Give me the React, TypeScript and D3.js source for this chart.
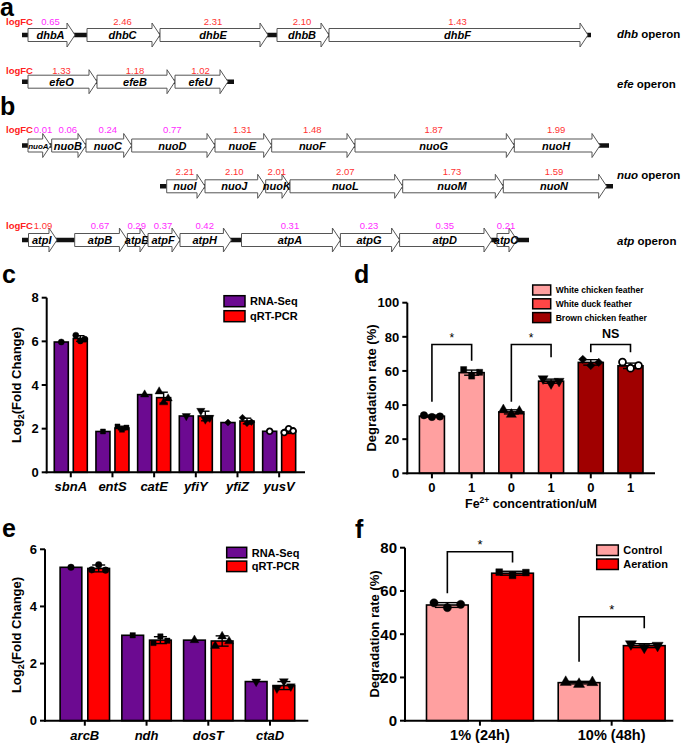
import React from 'react';
import * as d3 from 'd3';

const FONT = '"Liberation Sans", Arial, Helvetica, sans-serif';

// ---------------- Panels a / b : operon maps (map units) ----------------
const dhbGenes = ['dhbA', 'dhbC', 'dhbE', 'dhbB', 'dhbF'];
const dhbStart = [28, 87, 160, 277, 329];
const dhbEnd = [75, 160, 268, 329, 588];
const dhbLogFC = [0.65, 2.46, 2.31, 2.1, 1.43];

const efeGenes = ['efeO', 'efeB', 'efeU'];
const efeStart = [28, 97, 175];
const efeEnd = [97, 175, 228];
const efeLogFC = [1.33, 1.18, 1.02];

const nuo1Genes = ['nuoA', 'nuoB', 'nuoC', 'nuoD', 'nuoE', 'nuoF', 'nuoG', 'nuoH'];
const nuo1Start = [28, 51.7, 86, 131.7, 215, 271.7, 355, 514.3];
const nuo1End = [50.7, 86, 131.7, 215, 271.7, 355, 514.3, 600];
const nuo1LogFC = [0.01, 0.06, 0.24, 0.77, 1.31, 1.48, 1.87, 1.99];

const nuo2Genes = ['nuoI', 'nuoJ', 'nuoK', 'nuoL', 'nuoM', 'nuoN'];
const nuo2Start = [166.7, 205, 265.7, 290, 402.7, 503.3];
const nuo2End = [205, 265.7, 290, 402.7, 503.3, 606.7];
const nuo2LogFC = [2.21, 2.1, 2.01, 2.07, 1.73, 1.59];

const atpGenes = ['atpI', 'atpB', 'atpE', 'atpF', 'atpH', 'atpA', 'atpG', 'atpD', 'atpC'];
const atpStart = [28.5, 74.7, 127.4, 148, 180, 241.5, 340.4, 399.6, 497];
const atpEnd = [57, 127.4, 148, 180, 231.4, 340.4, 399.6, 492, 517];
const atpLogFC = [1.09, 0.67, 0.29, 0.37, 0.42, 0.31, 0.23, 0.35, 0.21];

// ---------------- Panel c ----------------
const cGenes = ['sbnA', 'entS', 'catE', 'yfiY', 'yfiZ', 'yusV'];
const cRnaSeq = [5.97, 1.87, 3.56, 2.58, 2.28, 1.88];
const cQrtMean = [6.13, 2.03, 3.42, 2.58, 2.35, 1.88];
const cQrtSD = [0.13, 0.08, 0.25, 0.22, 0.13, 0.1];
const cQrtReps = [
  [6.28, 6.02, 6.1],
  [2.1, 1.95, 2.05],
  [3.7, 3.2, 3.38],
  [2.82, 2.42, 2.5],
  [2.5, 2.25, 2.3],
  [1.82, 2.0, 1.9],
];
const cTicks = [0, 2, 4, 6, 8];

// ---------------- Panel d ----------------
const dFe = ['0', '1', '0', '1', '0', '1'];
const dMeans = [33.5, 59, 36, 54, 65, 63];
const dSD = [0.6, 1.5, 1.2, 1.2, 1.6, 1.6];
const dReps = [
  [34, 33, 33.3],
  [60.8, 57, 59.2],
  [37.2, 34.5, 36.3],
  [55.5, 52.6, 54],
  [66.8, 63.2, 65],
  [65.2, 61.6, 63.2],
];
const dFeathers = ['White chicken feather', 'White duck feather', 'Brown chicken feather'];
const dTicks = [0, 20, 40, 60, 80, 100];

// ---------------- Panel e ----------------
const eGenes = ['arcB', 'ndh', 'dosT', 'ctaD'];
const eRnaSeq = [5.37, 2.99, 2.82, 1.37];
const eQrtMean = [5.33, 2.82, 2.79, 1.23];
const eQrtSD = [0.12, 0.12, 0.18, 0.14];
const eQrtReps = [
  [5.28, 5.46, 5.27],
  [2.72, 2.95, 2.8],
  [2.62, 2.95, 2.78],
  [1.13, 1.38, 1.2],
];
const eTicks = [0, 2, 4, 6];

// ---------------- Panel f ----------------
const fConditions = ['1% (24h)', '10% (48h)'];
const fControl = [53.5, 17.6];
const fControlSD = [1.1, 0.6];
const fControlReps = [
  [54.5, 52.3, 53.8],
  [17.8, 16.9, 17.7],
];
const fAeration = [68.2, 34.7];
const fAerationSD = [0.9, 0.9];
const fAerationReps = [
  [68.7, 67.2, 68.5],
  [35.5, 33.9, 34.8],
];
const fTicks = [0, 20, 40, 60, 80];

// ---------------- styles ----------------
const PURPLE = '#6c0a91';
const RED = '#ff0000';
const PINK = '#ffa0a0';
const MIDRED = '#ff4646';
const DARKRED = '#a00000';
const VAL_RED = '#ff3333';
const VAL_MAG = '#ff2bff';

type Shape = 'circle' | 'square' | 'triangle' | 'triangleDown' | 'diamond' | 'openCircle';
const shapes6: Shape[] = ['circle', 'square', 'triangle', 'triangleDown', 'diamond', 'openCircle'];

function Marker({ shape, x, y, size }: { shape: Shape; x: number; y: number; size: number }) {
  let type: any = d3.symbolCircle;
  let rot = 0;
  let fill = '#000';
  let s = size;
  if (shape === 'square') { type = d3.symbolSquare; s = size * 0.85; }
  if (shape === 'triangle') type = d3.symbolTriangle;
  if (shape === 'triangleDown') { type = d3.symbolTriangle; rot = 180; }
  if (shape === 'diamond') { type = d3.symbolSquare; rot = 45; s = size * 0.8; }
  if (shape === 'openCircle') { fill = '#fff'; s = size * 0.85; }
  const d = d3.symbol().type(type).size(s)() as string;
  return (
    <path
      d={d}
      transform={`translate(${x},${y}) rotate(${rot})`}
      fill={fill}
      stroke="#000"
      strokeWidth={shape === 'openCircle' ? 1.8 : 0.4}
    />
  );
}

type BarItem = {
  cx: number;
  w: number;
  v: number;
  sd?: number;
  fill: string;
  reps?: number[];
  shape: Shape;
};

function BarLayer({ items, y, msize }: { items: BarItem[]; y: any; msize: number }) {
  const y0 = y(0);
  return (
    <g>
      {items.map((b, k) => {
        const yt = y(b.v);
        const cap = b.w * 0.6;
        const pts = b.reps ?? [b.v];
        const offs = pts.length === 1 ? [0] : [-0.32, 0, 0.32];
        return (
          <g key={k}>
            <rect x={b.cx - b.w / 2} y={yt} width={b.w} height={y0 - yt} fill={b.fill} stroke="#000" strokeWidth={1.6} />
            {b.sd != null && (
              <g stroke="#000" strokeWidth={1.4}>
                <line x1={b.cx} x2={b.cx} y1={y(b.v - b.sd)} y2={y(b.v + b.sd)} />
                <line x1={b.cx - cap / 2} x2={b.cx + cap / 2} y1={y(b.v + b.sd)} y2={y(b.v + b.sd)} />
                <line x1={b.cx - cap / 2} x2={b.cx + cap / 2} y1={y(b.v - b.sd)} y2={y(b.v - b.sd)} />
              </g>
            )}
            {pts.map((p, j) => (
              <Marker key={j} shape={b.shape} x={b.cx + offs[j] * b.w} y={y(p)} size={msize} />
            ))}
          </g>
        );
      })}
    </g>
  );
}

function Axes({
  x0, x1, y, ticks, tickFont, cats, catX, labelDy, labelFont, italic,
}: {
  x0: number; x1: number; y: any; ticks: number[]; tickFont: number;
  cats: string[]; catX: (i: number) => number; labelDy: number; labelFont: number; italic?: boolean;
}) {
  const y0 = y(0);
  const yTop = y(ticks[ticks.length - 1]);
  return (
    <g>
      <line x1={x0} x2={x0} y1={yTop} y2={y0 + 1} stroke="#000" strokeWidth={2} />
      <line x1={x0 - 1} x2={x1} y1={y0} y2={y0} stroke="#000" strokeWidth={2} />
      {ticks.map((t) => (
        <g key={t}>
          <line x1={x0 - 5} x2={x0} y1={y(t)} y2={y(t)} stroke="#000" strokeWidth={2} />
          <text x={x0 - 8} y={y(t)} dy="0.36em" textAnchor="end" fontSize={tickFont} fontWeight="bold">
            {t}
          </text>
        </g>
      ))}
      {cats.map((c, i) => (
        <g key={i}>
          <line x1={catX(i)} x2={catX(i)} y1={y0} y2={y0 + 5} stroke="#000" strokeWidth={2} />
          <text
            x={catX(i)}
            y={y0 + labelDy}
            textAnchor="middle"
            fontSize={labelFont}
            fontWeight="bold"
            fontStyle={italic ? 'italic' : 'normal'}
          >
            {c}
          </text>
        </g>
      ))}
    </g>
  );
}

function Legend({ x, y, items, bw, bh, step, font }: { x: number; y: number; items: { label: string; color: string }[]; bw: number; bh: number; step: number; font: number }) {
  return (
    <g>
      {items.map((it, i) => (
        <g key={i}>
          <rect x={x} y={y + i * step} width={bw} height={bh} fill={it.color} stroke="#000" strokeWidth={1.5} />
          <text x={x + bw + 5} y={y + i * step + bh / 2} dy="0.36em" fontSize={font} fontWeight="bold">
            {it.label}
          </text>
        </g>
      ))}
    </g>
  );
}

function YTitle({ cx, cy, children, size = 13 }: { cx: number; cy: number; children: any; size?: number }) {
  return (
    <text transform={`translate(${cx + size * 0.36},${cy}) rotate(-90)`} textAnchor="middle" fontSize={size} fontWeight="bold">
      {children}
    </text>
  );
}

function Bracket({ xl, xr, yl, yt, yr, label, font, bold }: { xl: number; xr: number; yl: number; yt: number; yr: number; label: string; font: number; bold?: boolean }) {
  return (
    <g>
      <path d={`M${xl},${yl}V${yt}H${xr}V${yr}`} fill="none" stroke="#000" strokeWidth={1.6} />
      <text
        x={(xl + xr) / 2}
        y={yt - (label === '*' ? 2.5 : 6)}
        textAnchor="middle"
        fontSize={font}
        fontWeight={bold ? 'bold' : 'normal'}
      >
        {label}
      </text>
    </g>
  );
}

// ---------------- operon rows ----------------
const gx = d3.scaleLinear().domain([0, 685]).range([0, 685]);

type Row = {
  genes: string[]; start: number[]; end: number[]; fc: number[];
  y: number; labelY: number; span: [number, number]; showLogFC: boolean;
};

const operonRows: Row[] = [
  { genes: dhbGenes, start: dhbStart, end: dhbEnd, fc: dhbLogFC, y: 35, labelY: 25, span: [22, 591], showLogFC: true },
  { genes: efeGenes, start: efeStart, end: efeEnd, fc: efeLogFC, y: 81.7, labelY: 73.5, span: [22, 234], showLogFC: true },
  { genes: nuo1Genes, start: nuo1Start, end: nuo1End, fc: nuo1LogFC, y: 145.5, labelY: 133, span: [22, 609], showLogFC: true },
  { genes: nuo2Genes, start: nuo2Start, end: nuo2End, fc: nuo2LogFC, y: 186.3, labelY: 175, span: [160, 613], showLogFC: false },
  { genes: atpGenes, start: atpStart, end: atpEnd, fc: atpLogFC, y: 240, labelY: 229, span: [22, 529], showLogFC: true },
];

const operonLabels = [
  { name: 'dhb', y: 37.5 },
  { name: 'efe', y: 88 },
  { name: 'nuo', y: 179 },
  { name: 'atp', y: 244.5 },
];

function OperonRow({ row }: { row: Row }) {
  const { genes, start, end, fc, y, labelY, span, showLogFC } = row;
  return (
    <g>
      <line x1={gx(span[0])} x2={gx(span[1])} y1={y} y2={y} stroke="#111" strokeWidth={4.5} />
      {genes.map((g, i) => {
        const x0 = gx(start[i]);
        const x1 = gx(end[i]);
        const head = Math.min(8, (x1 - x0) * 0.45);
        const d = `M${x0},${y - 6.5}H${x1 - head}V${y - 12}L${x1},${y}L${x1 - head},${y + 12}V${y + 6.5}H${x0}Z`;
        const mid = (x0 + x1) / 2 - 1;
        // keep the first value clear of the "logFC" tag
        const valX = showLogFC && i === 0 ? Math.max(mid, 43) : mid;
        return (
          <g key={g}>
            <path d={d} fill="#fff" stroke="#555" strokeWidth={1} />
            <text x={mid} y={y + (g === 'nuoA' ? 3 : 4)} textAnchor="middle" fontSize={g === 'nuoA' ? 8 : 11} fontWeight="bold" fontStyle="italic">
              {g}
            </text>
            <text x={valX} y={labelY} textAnchor="middle" fontSize={9.5} fill={fc[i] >= 1 ? VAL_RED : VAL_MAG}>
              {fc[i].toFixed(2)}
            </text>
          </g>
        );
      })}
      {showLogFC && (
        <text x={6} y={labelY} fontSize={9.5} fontWeight="bold" fill="#ff2020">
          logFC
        </text>
      )}
    </g>
  );
}

// ---------------- panels ----------------
function PanelC() {
  const x = d3.scaleLinear().domain([-0.578, 5.62]).range([46.7, 305]);
  const y = d3.scaleLinear().domain([0, 8]).range([472.3, 297.7]);
  const items: BarItem[] = cGenes.flatMap((g, i) => [
    { cx: x(i) - 9.5, w: 14, v: cRnaSeq[i], fill: PURPLE, shape: shapes6[i] },
    { cx: x(i) + 9.5, w: 14, v: cQrtMean[i], sd: cQrtSD[i], reps: cQrtReps[i], fill: RED, shape: shapes6[i] },
  ]);
  return (
    <g>
      <BarLayer items={items} y={y} msize={30} />
      <Axes x0={46.7} x1={305} y={y} ticks={cTicks} tickFont={13} cats={cGenes} catX={(i) => x(i)} labelDy={19} labelFont={13} italic />
      <Legend x={224} y={295.7} bw={21} bh={11} step={15} font={11} items={[{ label: 'RNA-Seq', color: PURPLE }, { label: 'qRT-PCR', color: RED }]} />
      <YTitle cx={16.7} cy={385}>
        Log<tspan fontSize={9} dy={3}>2</tspan>
        <tspan dy={-3}>(Fold Change)</tspan>
      </YTitle>
    </g>
  );
}

function PanelD() {
  const x = d3.scaleLinear().domain([-0.62, 5.617]).range([407.3, 655]);
  const y = d3.scaleLinear().domain([0, 100]).range([473.3, 302.7]);
  const colors = [PINK, PINK, MIDRED, MIDRED, DARKRED, DARKRED];
  const items: BarItem[] = dMeans.map((m, i) => ({
    cx: x(i), w: 25, v: m, sd: dSD[i], reps: dReps[i], fill: colors[i], shape: shapes6[i],
  }));
  const brackets = [
    { i: 0, j: 1, yl: 42, yt: 75.5, yr: 66, label: '*' },
    { i: 2, j: 3, yl: 42, yt: 75.5, yr: 68, label: '*' },
    { i: 4, j: 5, yl: 71, yt: 75.5, yr: 71, label: 'NS' },
  ];
  return (
    <g>
      <BarLayer items={items} y={y} msize={44} />
      <Axes x0={407.3} x1={655} y={y} ticks={dTicks} tickFont={13} cats={dFe} catX={(i) => x(i)} labelDy={18.5} labelFont={13} />
      {brackets.map((b, k) => (
        <Bracket key={k} xl={x(b.i)} xr={x(b.j)} yl={y(b.yl)} yt={y(b.yt)} yr={y(b.yr)} label={b.label} font={b.label === '*' ? 12 : 12.5} bold={b.label !== '*'} />
      ))}
      <Legend
        x={532.7}
        y={285}
        bw={18}
        bh={10}
        step={13.8}
        font={8.5}
        items={dFeathers.map((f, i) => ({ label: f, color: [PINK, MIDRED, DARKRED][i] }))}
      />
      <YTitle cx={371.5} cy={388}>Degradation rate (%)</YTitle>
      <text x={531} y={507.5} textAnchor="middle" fontSize={12.5} fontWeight="bold">
        Fe<tspan fontSize={8.5} dy={-5}>2+</tspan>
        <tspan dy={5}> concentration/uM</tspan>
      </text>
    </g>
  );
}

function PanelE() {
  const x = d3.scaleLinear().domain([-0.645, 3.62]).range([45, 308.3]);
  const y = d3.scaleLinear().domain([0, 6]).range([720.7, 549.3]);
  const items: BarItem[] = eGenes.flatMap((g, i) => [
    { cx: x(i) - 13.85, w: 21.7, v: eRnaSeq[i], fill: PURPLE, shape: shapes6[i] },
    { cx: x(i) + 13.85, w: 21.7, v: eQrtMean[i], sd: eQrtSD[i], reps: eQrtReps[i], fill: RED, shape: shapes6[i] },
  ]);
  return (
    <g>
      <BarLayer items={items} y={y} msize={34} />
      <Axes x0={45} x1={308.3} y={y} ticks={eTicks} tickFont={13} cats={eGenes} catX={(i) => x(i)} labelDy={19.5} labelFont={13} italic />
      <Legend x={226.7} y={547.3} bw={20} bh={10.5} step={13.8} font={11} items={[{ label: 'RNA-Seq', color: PURPLE }, { label: 'qRT-PCR', color: RED }]} />
      <YTitle cx={16.7} cy={635}>
        Log<tspan fontSize={9} dy={3}>2</tspan>
        <tspan dy={-3}>(Fold Change)</tspan>
      </YTitle>
    </g>
  );
}

function PanelF() {
  const x = d3.scaleLinear().domain([-0.569, 1.468]).range([405, 673.3]);
  const y = d3.scaleLinear().domain([0, 80]).range([720.7, 547.7]);
  const fShapes: Shape[][] = [['circle', 'square'], ['triangle', 'triangleDown']];
  const items: BarItem[] = fConditions.flatMap((c, i) => [
    { cx: x(i) - 32.6, w: 41.7, v: fControl[i], sd: fControlSD[i], reps: fControlReps[i], fill: PINK, shape: fShapes[i][0] },
    { cx: x(i) + 32.6, w: 41.7, v: fAeration[i], sd: fAerationSD[i], reps: fAerationReps[i], fill: RED, shape: fShapes[i][1] },
  ]);
  const brackets = [
    { i: 0, yl: 58.9, yt: 78.1, yr: 73.1 },
    { i: 1, yl: 27.3, yt: 48.1, yr: 42.7 },
  ];
  return (
    <g>
      <BarLayer items={items} y={y} msize={54} />
      <Axes x0={405} x1={673.3} y={y} ticks={fTicks} tickFont={15} cats={fConditions} catX={(i) => x(i)} labelDy={19} labelFont={14.5} />
      {brackets.map((b, k) => (
        <Bracket key={k} xl={x(b.i) - 32.6} xr={x(b.i) + 32.6} yl={y(b.yl)} yt={y(b.yt)} yr={y(b.yr)} label="*" font={13} />
      ))}
      <Legend x={596.7} y={545} bw={21.6} bh={10.5} step={14} font={11} items={[{ label: 'Control', color: PINK }, { label: 'Aeration', color: RED }]} />
      <YTitle cx={374} cy={634}>Degradation rate (%)</YTitle>
    </g>
  );
}

export default function App() {
  return (
    <svg
      width={685}
      height={743}
      viewBox="0 0 685 743"
      style={{ position: 'absolute', left: 0, top: 0, background: '#fff' }}
      fontFamily={FONT}
    >
      <rect width={685} height={743} fill="#fff" />
      <g fontSize={25} fontWeight="bold">
        <text x={0} y={16}>a</text>
        <text x={0} y={115}>b</text>
        <text x={2} y={283}>c</text>
        <text x={354} y={283}>d</text>
        <text x={2} y={537}>e</text>
        <text x={355} y={538}>f</text>
      </g>
      {operonRows.map((r, i) => (
        <OperonRow key={i} row={r} />
      ))}
      {operonLabels.map((o) => (
        <text key={o.name} x={617} y={o.y} fontSize={11.5} fontWeight="bold">
          <tspan fontStyle="italic">{o.name}</tspan> operon
        </text>
      ))}
      <PanelC />
      <PanelD />
      <PanelE />
      <PanelF />
    </svg>
  );
}
